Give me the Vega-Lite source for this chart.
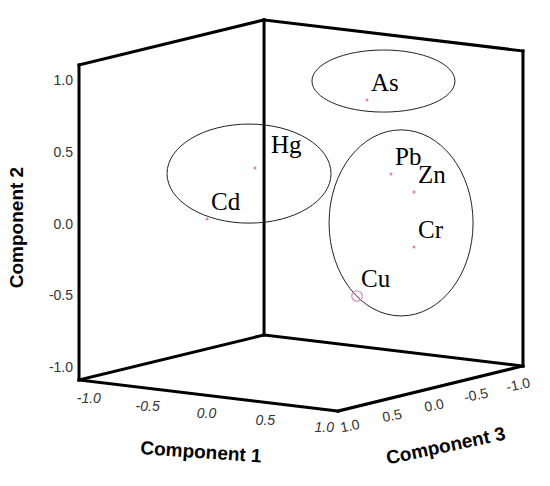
{
  "$schema": "https://vega.github.io/schema/vega-lite/v6.json",
  "width": 550,
  "height": 486,
  "padding": 0,
  "autosize": {"type": "none"},
  "background": "white",
  "config": {"view": {"stroke": null}},
  "data": {
    "values": [
      {"kind": "edge", "c1": -1.1, "c2": -1.1, "c3": 1.1, "d1": -1.1, "d2": 1.1, "d3": 1.1},
      {"kind": "edge", "c1": -1.1, "c2": -1.1, "c3": -1.1, "d1": -1.1, "d2": 1.1, "d3": -1.1},
      {"kind": "edge", "c1": 1.1, "c2": -1.1, "c3": -1.1, "d1": 1.1, "d2": 1.1, "d3": -1.1},
      {"kind": "edge", "c1": -1.1, "c2": 1.1, "c3": 1.1, "d1": -1.1, "d2": 1.1, "d3": -1.1},
      {"kind": "edge", "c1": -1.1, "c2": 1.1, "c3": -1.1, "d1": 1.1, "d2": 1.1, "d3": -1.1},
      {"kind": "edge", "c1": -1.1, "c2": -1.1, "c3": 1.1, "d1": -1.1, "d2": -1.1, "d3": -1.1},
      {"kind": "edge", "c1": -1.1, "c2": -1.1, "c3": -1.1, "d1": 1.1, "d2": -1.1, "d3": -1.1},
      {"kind": "edge", "c1": -1.1, "c2": -1.1, "c3": 1.1, "d1": 1.1, "d2": -1.1, "d3": 1.1},
      {"kind": "edge", "c1": 1.1, "c2": -1.1, "c3": 1.1, "d1": 1.1, "d2": -1.1, "d3": -1.1},
      {"kind": "group", "name": "As", "c1": 0.915, "c2": 1.072, "c3": 0.3},
      {"kind": "group", "name": "CdHg", "c1": 0.023, "c2": 0.388, "c3": 0.65},
      {"kind": "group", "name": "PbZnCrCu", "c1": 0.743, "c2": 0.0, "c3": -0.15},
      {"kind": "loading", "name": "As", "c1": 0.775, "c2": 0.926, "c3": 0.3},
      {"kind": "loading", "name": "Hg", "c1": 0.038, "c2": 0.421, "c3": 0.6},
      {"kind": "loading", "name": "Cd", "c1": -0.298, "c2": 0.046, "c3": 0.7},
      {"kind": "loading", "name": "Pb", "c1": 0.622, "c2": 0.322, "c3": -0.2},
      {"kind": "loading", "name": "Zn", "c1": 0.889, "c2": 0.237, "c3": -0.1},
      {"kind": "loading", "name": "Cr", "c1": 0.817, "c2": -0.168, "c3": -0.2},
      {"kind": "loading", "name": "Cu", "c1": 0.547, "c2": -0.494, "c3": 0.1},
      {"kind": "tick", "axis": "Component 1", "label": "-1.0", "c1": -1, "c2": -1.1, "c3": 1.1},
      {"kind": "tick", "axis": "Component 1", "label": "-0.5", "c1": -0.5, "c2": -1.1, "c3": 1.1},
      {"kind": "tick", "axis": "Component 1", "label": "0.0", "c1": 0, "c2": -1.1, "c3": 1.1},
      {"kind": "tick", "axis": "Component 1", "label": "0.5", "c1": 0.5, "c2": -1.1, "c3": 1.1},
      {"kind": "tick", "axis": "Component 1", "label": "1.0", "c1": 1, "c2": -1.1, "c3": 1.1},
      {"kind": "tick", "axis": "Component 2", "label": "-1.0", "c1": -1.1, "c2": -1, "c3": 1.1},
      {"kind": "tick", "axis": "Component 2", "label": "-0.5", "c1": -1.1, "c2": -0.5, "c3": 1.1},
      {"kind": "tick", "axis": "Component 2", "label": "0.0", "c1": -1.1, "c2": 0, "c3": 1.1},
      {"kind": "tick", "axis": "Component 2", "label": "0.5", "c1": -1.1, "c2": 0.5, "c3": 1.1},
      {"kind": "tick", "axis": "Component 2", "label": "1.0", "c1": -1.1, "c2": 1, "c3": 1.1},
      {"kind": "tick", "axis": "Component 3", "label": "-1.0", "c1": 1.1, "c2": -1.1, "c3": -1},
      {"kind": "tick", "axis": "Component 3", "label": "-0.5", "c1": 1.1, "c2": -1.1, "c3": -0.5},
      {"kind": "tick", "axis": "Component 3", "label": "0.0", "c1": 1.1, "c2": -1.1, "c3": 0},
      {"kind": "tick", "axis": "Component 3", "label": "0.5", "c1": 1.1, "c2": -1.1, "c3": 0.5},
      {"kind": "tick", "axis": "Component 3", "label": "1.0", "c1": 1.1, "c2": -1.1, "c3": 1},
      {"kind": "title", "name": "Component 1", "c1": 0, "c2": -1.1, "c3": 1.1},
      {"kind": "title", "name": "Component 2", "c1": -1.1, "c2": 0, "c3": 1.1},
      {"kind": "title", "name": "Component 3", "c1": 1.1, "c2": -1.1, "c3": 0}
    ]
  },
  "transform": [
    {"calculate": "datum.c1 * 117.7 - datum.c3 * 84.1", "as": "X"},
    {"calculate": "datum.c2 * 143.2 - datum.c1 * 14.1 - datum.c3 * 20.5", "as": "Y"},
    {"calculate": "datum.kind === 'edge' ? datum.d1 * 117.7 - datum.d3 * 84.1 : null", "as": "X2"},
    {"calculate": "datum.kind === 'edge' ? datum.d2 * 143.2 - datum.d1 * 14.1 - datum.d3 * 20.5 : null", "as": "Y2"}
  ],
  "encoding": {
    "x": {"field": "X", "type": "quantitative", "scale": {"domain": [-301, 249], "nice": false, "zero": false}, "axis": null},
    "y": {"field": "Y", "type": "quantitative", "scale": {"domain": [-270.5, 215.5], "nice": false, "zero": false}, "axis": null}
  },
  "layer": [
    {
      "transform": [{"filter": "datum.kind === 'edge'"}],
      "mark": {"type": "rule", "color": "black", "strokeWidth": 3, "strokeCap": "square"},
      "encoding": {
        "x2": {"field": "X2"},
        "y2": {"field": "Y2"}
      }
    },
    {
      "transform": [{"filter": "datum.kind === 'group' && datum.name === 'As'"}],
      "mark": {"type": "point", "shape": "M-1,0A1,0.434,0,1,1,1,0A1,0.434,0,1,1,-1,0Z", "size": 20449, "filled": false, "stroke": "#222", "strokeWidth": 1, "opacity": 1}
    },
    {
      "transform": [{"filter": "datum.kind === 'group' && datum.name === 'CdHg'"}],
      "mark": {"type": "point", "shape": "M-1,0A1,0.604,0,1,1,1,0A1,0.604,0,1,1,-1,0Z", "size": 26896, "filled": false, "stroke": "#222", "strokeWidth": 1, "opacity": 1}
    },
    {
      "transform": [{"filter": "datum.kind === 'group' && datum.name === 'PbZnCrCu'"}],
      "mark": {"type": "point", "shape": "M-1,0A1,1.292,0,1,1,1,0A1,1.292,0,1,1,-1,0Z", "size": 20736, "filled": false, "stroke": "#222", "strokeWidth": 1, "opacity": 1}
    },
    {
      "transform": [{"filter": "datum.kind === 'loading' && datum.name !== 'Cu'"}],
      "mark": {"type": "circle", "size": 9, "color": "#dd88a8", "opacity": 1}
    },
    {
      "transform": [{"filter": "datum.kind === 'loading' && datum.name === 'Cu'"}],
      "mark": {"type": "point", "shape": "circle", "size": 110, "filled": false, "stroke": "#dd88a8", "strokeWidth": 1.2, "opacity": 1}
    },
    {
      "transform": [{"filter": "datum.kind === 'loading' && datum.name !== 'Hg'"}],
      "mark": {"type": "text", "font": "Liberation Serif", "fontSize": 25, "align": "left", "baseline": "alphabetic", "dx": 4, "dy": -9, "color": "black"},
      "encoding": {"text": {"field": "name"}}
    },
    {
      "transform": [{"filter": "datum.kind === 'loading' && datum.name === 'Hg'"}],
      "mark": {"type": "text", "font": "Liberation Serif", "fontSize": 25, "align": "left", "baseline": "alphabetic", "dx": 16, "dy": -15, "color": "black"},
      "encoding": {"text": {"field": "name"}}
    },
    {
      "transform": [{"filter": "datum.kind === 'tick' && datum.axis === 'Component 1'"}],
      "mark": {"type": "text", "font": "Liberation Sans", "fontSize": 14, "fontStyle": "italic", "align": "center", "baseline": "middle", "dx": -2, "dy": 18, "color": "#333"},
      "encoding": {"text": {"field": "label"}}
    },
    {
      "transform": [{"filter": "datum.kind === 'tick' && datum.axis === 'Component 2'"}],
      "mark": {"type": "text", "font": "Liberation Sans", "fontSize": 14, "align": "right", "baseline": "middle", "dx": -6, "dy": 2, "color": "#333"},
      "encoding": {"text": {"field": "label"}}
    },
    {
      "transform": [{"filter": "datum.kind === 'tick' && datum.axis === 'Component 3'"}],
      "mark": {"type": "text", "font": "Liberation Sans", "fontSize": 14, "align": "center", "baseline": "middle", "angle": -12, "dx": 0, "dy": 18, "color": "#333"},
      "encoding": {"text": {"field": "label"}}
    },
    {
      "transform": [{"filter": "datum.kind === 'title' && datum.name === 'Component 1'"}],
      "mark": {"type": "text", "font": "Liberation Sans", "fontSize": 19, "fontWeight": "bold", "align": "center", "baseline": "middle", "angle": 4, "dx": -3.5, "dy": 57, "color": "black"},
      "encoding": {"text": {"field": "name"}}
    },
    {
      "transform": [{"filter": "datum.kind === 'title' && datum.name === 'Component 2'"}],
      "mark": {"type": "text", "font": "Liberation Sans", "fontSize": 19, "fontWeight": "bold", "align": "center", "baseline": "middle", "angle": -90, "dx": -5, "dy": -62, "color": "black"},
      "encoding": {"text": {"field": "name"}}
    },
    {
      "transform": [{"filter": "datum.kind === 'title' && datum.name === 'Component 3'"}],
      "mark": {"type": "text", "font": "Liberation Sans", "fontSize": 19, "fontWeight": "bold", "align": "center", "baseline": "middle", "angle": -12, "dx": 3, "dy": 59.5, "color": "black"},
      "encoding": {"text": {"field": "name"}}
    }
  ]
}
